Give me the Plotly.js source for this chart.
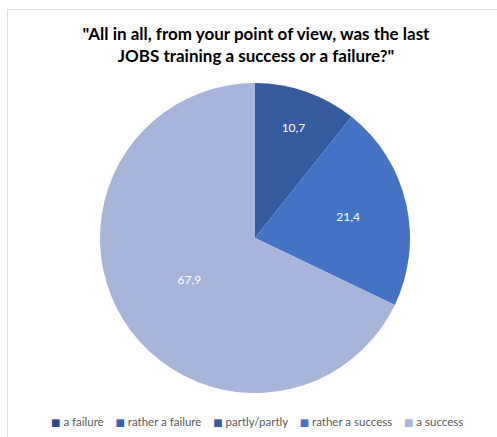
<!DOCTYPE html>
<html>
<head>
<meta charset="utf-8">
<script src="https://cdn.plot.ly/plotly-3.0.1.min.js"></script>
<style>
html,body{margin:0;padding:0;background:#fff;overflow:hidden;}
#frame{position:absolute;left:7px;top:9px;width:520px;height:460px;border:1px solid #dedede;box-sizing:border-box;}
#chart{position:absolute;left:0;top:0;width:497px;height:437px;}
</style>
</head>
<body>
<div id="frame"></div>
<div id="chart"></div>
<script>
const categories = ["a failure", "rather a failure", "partly/partly", "rather a success", "a success"];
const values = [0, 0, 10.7, 21.4, 67.9];
const labelsText = ["0", "0", "10,7", "21,4", "67,9"];
const colors = ["#2c4a87", "#3560b8", "#365a9f", "#4473c5", "#a7b5da"];

const trace = {
  type: "pie",
  labels: categories,
  values: values,
  text: labelsText,
  textinfo: "text",
  textposition: "inside",
  insidetextorientation: "horizontal",
  textfont: {family: "Lato, 'Open Sans', sans-serif", size: 12, color: "#ffffff"},
  marker: {colors: colors, line: {width: 0}},
  sort: false,
  direction: "clockwise",
  rotation: 0,
  hoverinfo: "label+text",
  showlegend: false,
  domain: {x: [100/497, 410/497], y: [1 - 393/437, 1 - 83/437]}
};

// legend built from the category and colour arrays as one text line
const gap = "\u00a0\u00a0\u00a0\u00a0";
const legendText = categories.map((c, i) =>
  '<span style="color:' + colors[i] + ';font-size:10px;font-family:DejaVu Sans">\u25A0</span>\u00a0' + c
).join(gap);

const layout = {
  width: 497,
  height: 437,
  margin: {l: 0, r: 0, t: 0, b: 0},
  paper_bgcolor: "rgba(0,0,0,0)",
  plot_bgcolor: "rgba(0,0,0,0)",
  showlegend: false,
  title: {
    text: "<b>\"All in all, from your point of view, was the last<br>JOBS training a success or a failure?\"</b>",
    font: {family: "Lato, 'Open Sans', sans-serif", size: 17, color: "#000000"},
    x: 256/497, xanchor: "center",
    y: 1 - 40/437, yanchor: "top"
  },
  annotations: [{
    xref: "paper", yref: "paper",
    x: 257/497, xanchor: "center",
    y: 1 - 421/437, yanchor: "middle",
    showarrow: false,
    text: legendText,
    font: {family: "Lato, 'Open Sans', sans-serif", size: 11.5, color: "#595959"}
  }]
};

Plotly.newPlot("chart", [trace], layout, {displayModeBar: false, staticPlot: true});
</script>
</body>
</html>
